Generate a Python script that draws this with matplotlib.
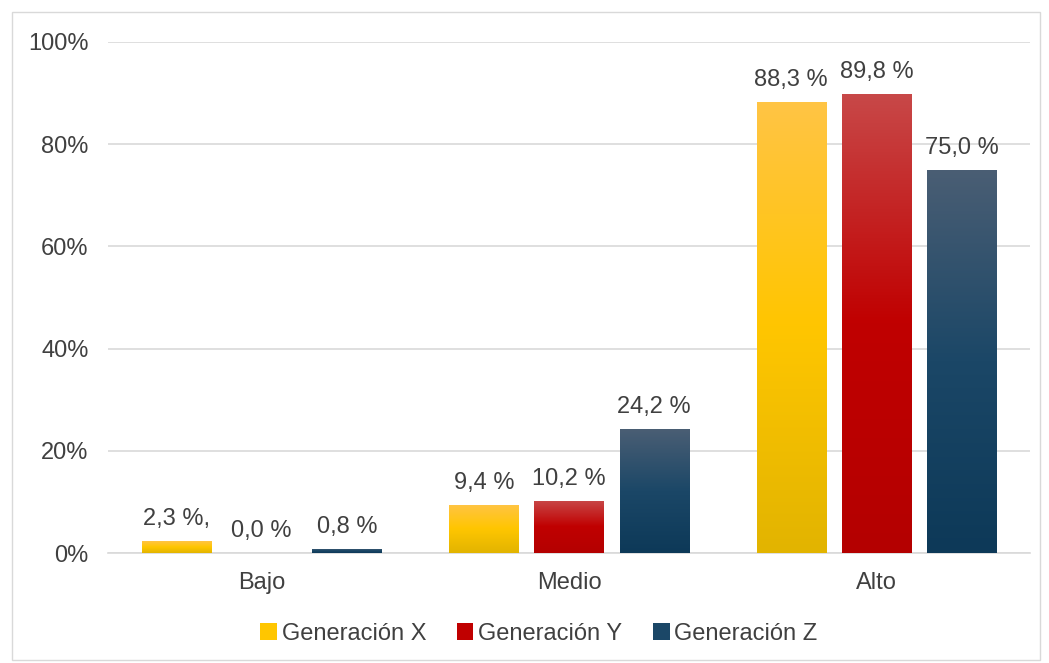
import matplotlib
matplotlib.use('Agg')

import numpy as np
import matplotlib.pyplot as plt
from matplotlib.colors import LinearSegmentedColormap
from matplotlib.patches import Patch, Rectangle

categories = ['Bajo', 'Medio', 'Alto']
series = ['Generación X', 'Generación Y', 'Generación Z']
gen_x = [2.3, 9.4, 88.3]
gen_y = [0.0, 10.2, 89.8]
gen_z = [0.8, 24.2, 75.0]
labels_x = ['2,3 %,', '9,4 %', '88,3 %']
labels_y = ['0,0 %', '10,2 %', '89,8 %']
labels_z = ['0,8 %', '24,2 %', '75,0 %']

# gradient stops (top, middle, bottom) per series
grads = [
    ['#FFC445', '#FFC600', '#E2B400'],
    ['#C84848', '#C00000', '#B40000'],
    ['#4A5E74', '#1B4767', '#0D3958'],
]
solid = ['#FFC000', '#C00000', '#1F4E79']

plt.rcParams['font.family'] = ['Liberation Sans', 'DejaVu Sans']
txt = '#404040'
fs = 17

DPI = 100
fig = plt.figure(figsize=(1049 / DPI, 663 / DPI), dpi=DPI)
ax = fig.add_axes([108 / 1049, 1 - 553 / 663, (1030 - 108) / 1049, (553 - 42) / 663])

# outer chart frame
fig.patches.append(Rectangle((12 / 1049, 3 / 663), 1028 / 1049, 648 / 663,
                             transform=fig.transFigure, fill=False,
                             edgecolor='#D9D9D9', linewidth=1))

x = np.arange(len(categories))
width = 0.225
step = 0.277
grad = np.linspace(0, 1, 256).reshape(-1, 1)

for i, (vals, labs) in enumerate(zip([gen_x, gen_y, gen_z], [labels_x, labels_y, labels_z])):
    cmap = LinearSegmentedColormap.from_list('g%d' % i, grads[i][::-1])
    bars = ax.bar(x + (i - 1) * step, vals, width, color=solid[i], zorder=2)
    for b, lab in zip(bars, labs):
        x0, w, h = b.get_x(), b.get_width(), b.get_height()
        if h > 0:
            im = ax.imshow(grad, cmap=cmap, aspect='auto', origin='lower',
                           extent=[x0, x0 + w, 0, h], zorder=3)
            im.set_clip_path(b)
        b.set_facecolor('none')
        ax.text(x0 + w / 2, h + 2.2, lab, ha='center', va='bottom',
                fontsize=fs, color=txt, zorder=4)

ax.set_xlim(-0.5, 2.5)
ax.set_ylim(0, 100)
ax.set_yticks(np.arange(0, 101, 20))
ax.set_yticklabels(['%d%%' % v for v in range(0, 101, 20)])
ax.set_xticks(x)
ax.set_xticklabels(categories)
ax.tick_params(axis='both', length=0, labelsize=fs, labelcolor=txt)
ax.tick_params(axis='y', pad=14)
ax.tick_params(axis='x', pad=14)
ax.grid(axis='y', color='#D9D9D9', linewidth=1.2, zorder=0)
ax.set_axisbelow(True)
for s in ['top', 'right', 'left']:
    ax.spines[s].set_visible(False)
ax.spines['bottom'].set_color('#D9D9D9')
ax.spines['bottom'].set_linewidth(1.2)

handles = [Patch(facecolor=grads[i][1], edgecolor='none') for i in range(3)]
fig.legend(handles, series, loc='center', bbox_to_anchor=(539 / 1049, 1 - 634 / 663),
           ncol=3, frameon=False, fontsize=fs, labelcolor=txt,
           handlelength=0.7, handleheight=0.7, handletextpad=0.2, columnspacing=1.3)

fig.savefig('out.png', dpi=DPI)
